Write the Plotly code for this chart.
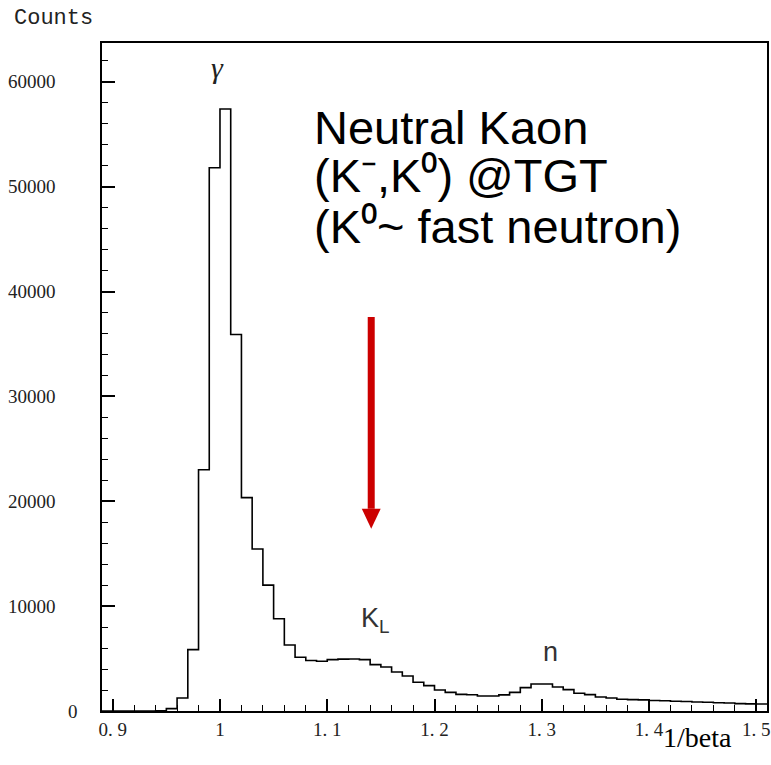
import numpy as np
import plotly.graph_objects as go

# 1/beta histogram, 0.01 wide bins starting at 0.89
bin_low_edge = 0.89
bin_width = 0.01
counts = [
    0, 0, 0, 0, 0, 30, 230, 1240, 5850, 23000,
    51800, 57400, 35900, 20350, 15450, 12000, 8800, 6300, 5130, 4820,
    4740, 4900, 4950, 4960, 4900, 4420, 4200, 3720, 3340, 2740,
    2420, 2000, 1780, 1590, 1550, 1430, 1430, 1540, 1780, 2230,
    2580, 2580, 2290, 2040, 1690, 1560, 1340, 1240, 1120, 1080,
    1060, 1000, 980, 930, 900, 860, 830, 790, 760, 700,
    680, 670,
]

x_tick_vals = [0.9, 1.0, 1.1, 1.2, 1.3, 1.4, 1.5]
x_tick_text = ["0. 9", "1", "1. 1", "1. 2", "1. 3", "1. 4", "1. 5"]
y_tick_vals = [0, 10000, 20000, 30000, 40000, 50000, 60000]
y_tick_text = ["0", "10000", "20000", "30000", "40000", "50000", "60000"]

x_range = [0.89, 1.51]
y_range = [0, 63700]

# red marker arrow (data coordinates)
arrow_x = 1.141
arrow_tail_y = 37560
arrow_head_base_y = 19290
arrow_tip_y = 17390
arrow_half_width = 0.0088

n_bins = len(counts)
edges = bin_low_edge + bin_width * np.arange(n_bins + 1)
step_y = list(counts) + [counts[-1]]

fig = go.Figure()
fig.add_trace(go.Scatter(
    x=edges, y=step_y, mode="lines",
    line=dict(shape="hv", color="black", width=1.6),
    hoverinfo="skip", showlegend=False,
))

red = "#cc0000"
fig.add_shape(type="line", xref="x", yref="y",
              x0=arrow_x, x1=arrow_x, y0=arrow_tail_y, y1=arrow_head_base_y,
              line=dict(color=red, width=7))
fig.add_shape(type="path", xref="x", yref="y",
              path=(f"M {arrow_x - arrow_half_width},{arrow_head_base_y} "
                    f"L {arrow_x + arrow_half_width},{arrow_head_base_y} "
                    f"L {arrow_x},{arrow_tip_y} Z"),
              fillcolor=red, line=dict(color=red, width=0))

tick_font = dict(family="Liberation Serif", size=19, color="#222222")

fig.update_xaxes(
    range=x_range, tickmode="array", tickvals=x_tick_vals, ticktext=x_tick_text,
    ticks="inside", ticklen=12, tickwidth=1.5, tickcolor="black",
    minor=dict(dtick=0.02, tick0=0.9, ticks="inside", ticklen=6, tickwidth=1.3, tickcolor="black"),
    showline=True, linecolor="black", linewidth=2, mirror=True,
    showgrid=False, zeroline=False, tickfont=tick_font,
    ticklabeloverflow="allow",
)
fig.update_yaxes(
    range=y_range, tickmode="array", tickvals=y_tick_vals,
    ticks="inside", ticklen=13, tickwidth=1.5, tickcolor="black",
    minor=dict(dtick=2000, tick0=0, ticks="inside", ticklen=6, tickwidth=1.3, tickcolor="black"),
    showline=True, linecolor="black", linewidth=1.6, mirror=True,
    showgrid=False, zeroline=False, showticklabels=False,
)

big = dict(family="Liberation Sans", size=47, color="black")
label_font = dict(family="Liberation Sans", size=27, color="#333333")

annotations = [
    dict(text="Counts", x=-0.1347, y=1.036, xanchor="left", yanchor="middle",
         font=dict(family="Liberation Mono", size=22, color="#222222")),
    dict(text="1/beta", x=0.9506, y=-0.0404, xanchor="right", yanchor="middle",
         font=dict(family="Liberation Serif", size=28, color="black")),
    dict(text="<i>γ</i>", x=0.1737, y=0.964, xanchor="center", yanchor="middle",
         font=dict(family="Liberation Serif", size=30, color="#222222")),
    dict(text="K<sub>L</sub>", x=0.4109, y=0.1362, xanchor="center", yanchor="middle",
         font=label_font),
    dict(text="n", x=0.6744, y=0.0876, xanchor="center", yanchor="middle",
         font=label_font),
    dict(text="Neutral Kaon", x=0.3159, y=0.8728, xanchor="left", yanchor="middle", font=big),
    dict(text="(K\u207b,K\u2070) @TGT", x=0.3159, y=0.8014,
         xanchor="left", yanchor="middle", font=big),
    dict(text="(K\u2070~ fast neutron)", x=0.3159, y=0.7260,
         xanchor="left", yanchor="middle", font=big),
]
for a in annotations:
    a.update(xref="paper", yref="paper", showarrow=False)

# y tick labels set well away from the axis line
for v, t in zip(y_tick_vals, y_tick_text):
    annotations.append(dict(
        text=t, x=-0.033 if v == 0 else -0.0659, y=v, xref="paper", yref="y",
        xanchor="right", yanchor="middle", showarrow=False, font=tick_font,
    ))

fig.update_layout(
    width=771, height=765,
    margin=dict(l=102, r=1, t=43, b=54),
    paper_bgcolor="white", plot_bgcolor="white",
    annotations=annotations,
    showlegend=False,
)

fig.write_html("out.html")
